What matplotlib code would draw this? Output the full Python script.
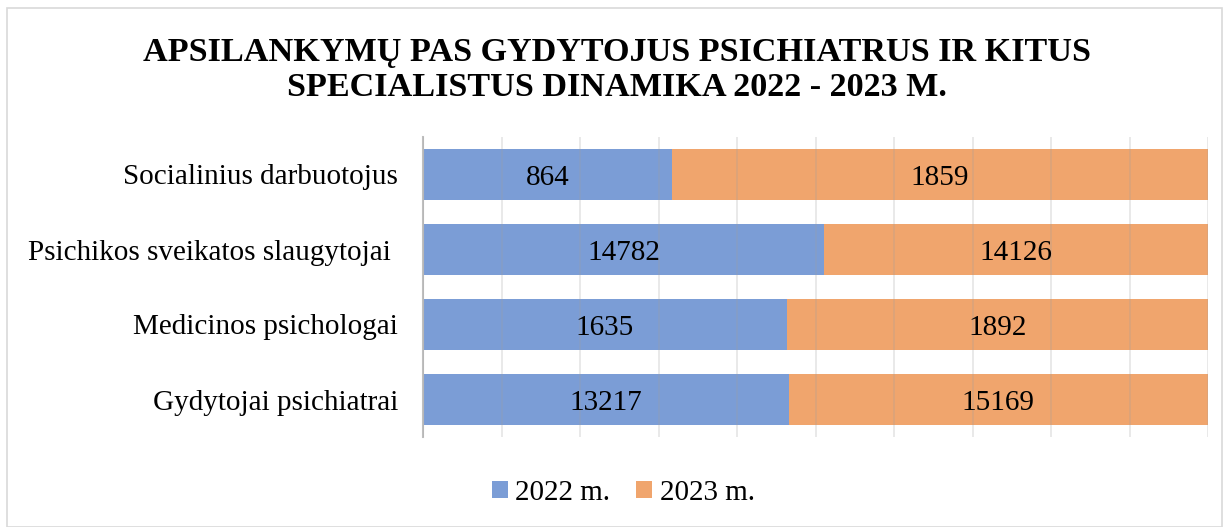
import matplotlib
matplotlib.use("Agg")
import matplotlib.pyplot as plt
from matplotlib.patches import Rectangle
import numpy as np

categories = ["Socialinius darbuotojus", "Psichikos sveikatos slaugytojai ",
              "Medicinos psichologai", "Gydytojai psichiatrai"]
series_names = ["2022 m.", "2023 m."]
v2022 = [864, 14782, 1635, 13217]
v2023 = [1859, 14126, 1892, 15169]
title = "APSILANKYMŲ PAS GYDYTOJUS PSICHIATRUS IR KITUS\nSPECIALISTUS DINAMIKA 2022 - 2023 M."

colors = ["#7B9DD6", "#F0A56D"]
plt.rcParams["font.family"] = ["Liberation Serif", "DejaVu Serif"]

W, H = 1227, 527
fig = plt.figure(figsize=(W/100, H/100), dpi=100)
fig.patches.append(Rectangle((7/W, 0), (W-12)/W, 1 - 8/H, transform=fig.transFigure,
                             fill=False, edgecolor="#D9D9D9", linewidth=1.2))

ax = fig.add_axes([423/W, 1-437/H, (1208-423)/W, 300/H])
a = np.array(v2022, float)
b = np.array(v2023, float)
tot = a + b
pa, pb = a/tot, b/tot
y = np.arange(len(categories))
ax.barh(y, pa, height=0.667, color=colors[0], label=series_names[0], zorder=2)
ax.barh(y, pb, left=pa, height=0.667, color=colors[1], label=series_names[1], zorder=2)
for i in range(len(categories)):
    ax.text(pa[i]/2, y[i] + 0.05, str(v2022[i]), ha="center", va="center", fontsize=21, zorder=4)
    ax.text(pa[i] + pb[i]/2, y[i] + 0.05, str(v2023[i]), ha="center", va="center", fontsize=21, zorder=4)

ax.set_xlim(0, 1)
ax.set_ylim(len(categories)-0.5, -0.5)
ax.set_xticks(np.linspace(0, 1, 11))
ax.set_xticklabels([])
ax.tick_params(axis="x", length=0)
ax.grid(axis="x", color="#A0A0A0", alpha=0.25, linewidth=1.3, zorder=3)
ax.set_axisbelow(False)
ax.set_yticks(y)
ax.set_yticklabels(categories, fontsize=21)
ax.tick_params(axis="y", length=0, pad=18)
for s in ["top", "right", "bottom"]:
    ax.spines[s].set_visible(False)
ax.spines["left"].set_color("#BFBFBF")
ax.spines["left"].set_linewidth(1.5)

fig.text(0.503, 1-70/H, title, ha="center", va="center", fontsize=24.6, fontweight="bold",
         linespacing=1.15)
fig.legend(loc="center", bbox_to_anchor=(0.508, 1-493/H), ncol=2, frameon=False,
           fontsize=21, handlelength=0.55, handleheight=0.55, handletextpad=0.25,
           columnspacing=0.9)
fig.savefig("out.png", dpi=100)
